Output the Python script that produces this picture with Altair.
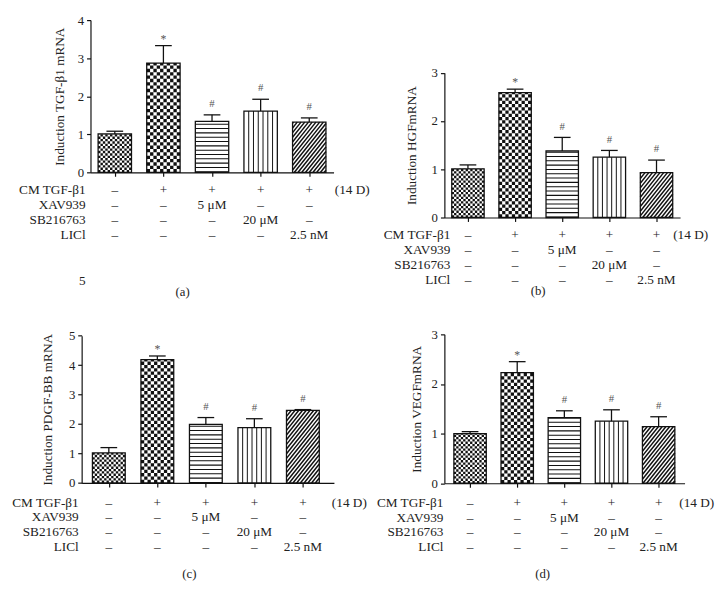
import altair as alt
import pandas as pd

FONT = "Liberation Serif"
INK = "#111111"
TXT = "#222222"

# ---------------- data ----------------
cat_index = [0, 1, 2, 3, 4]
categories = ["Control", "CM TGF-β1", "XAV939", "SB216763", "LiCl"]
signif = ["", "*", "#", "#", "#"]

tgf_mean = [1.01, 2.87, 1.34, 1.61, 1.32]
tgf_err = [1.08, 3.33, 1.51, 1.92, 1.43]

hgf_mean = [1.01, 2.59, 1.38, 1.25, 0.93]
hgf_err = [1.09, 2.66, 1.66, 1.39, 1.19]

pdgf_mean = [1.02, 4.19, 1.99, 1.88, 2.46]
pdgf_err = [1.20, 4.31, 2.22, 2.18, 2.49]

vegf_mean = [1.00, 2.23, 1.32, 1.25, 1.14]
vegf_err = [1.04, 2.45, 1.46, 1.48, 1.34]

row_labels = ["CM TGF-β1", "XAV939", "SB216763", "LICl"]
row_cm = ["–", "+", "+", "+", "+"]
row_xav = ["–", "–", "5 μM", "–", "–"]
row_sb = ["–", "–", "–", "20 μM", "–"]
row_licl = ["–", "–", "–", "–", "2.5 nM"]
duration_label = "(14 D)"
stray_label_a = "5"   # stray figure text shown under panel (a)

# ---------------- layout geometry (pixels) ----------------
# xr0: start of the x range inside the panel group (the y axis sits there)
GEO = {
    "a": dict(xdom=[-0.5, 4.5], pxx=49.5, xr0=0, yb=155, yt=0, height=271,
              rows=[173.3, 219.3], ldx=-5, ddx=26, hw=17, cdx=-30, coff=5.3, tpad=11),
    "b": dict(xdom=[-0.5, 4.5], pxx=48, xr0=0, yb=201, yt=53.6, height=271,
              rows=[219, 264.3], ldx=6, ddx=17, hw=16.5, cdx=-24.5, coff=5.3, tpad=13),
    "c": dict(xdom=[-0.56, 4.64], pxx=49.4, xr0=-9, yb=151.3, yt=1.3, height=235,
              rows=[171.3, 216.3], ldx=-3, ddx=29.5, hw=16.7, cdx=-23.2, coff=9.3, tpad=14),
    "d": dict(xdom=[-0.545, 4.55], pxx=48, xr0=0, yb=151.6, yt=0, height=235,
              rows=[171.8, 216.3], ldx=-1, ddx=21, hw=16.5, cdx=-22.3, coff=9.3, tpad=8),
}


def build_panel(mean, err, ytitle, ymax, caption, g, extra_label=None):
    xmin, xmax = g["xdom"]
    pxx = g["pxx"]
    x_range = [g["xr0"], g["xr0"] + (xmax - xmin) * pxx]
    width = x_range[1]
    yb, yt = g["yb"], g["yt"]
    pxy = (yb - yt) / ymax
    H = g["height"]
    hw = g["hw"] / pxx
    cap = 8.5 / pxx
    wb_px = 2 * g["hw"]

    xscale = alt.Scale(domain=[xmin, xmax], range=x_range, nice=False, zero=False)
    yscale = alt.Scale(domain=[0, ymax], range=[yb, yt], nice=False, zero=False)
    xaxis = alt.Axis(values=cat_index, labels=False, title=None, grid=False,
                     tickSize=4, offset=yb - H, domainColor=INK, domainWidth=1.2,
                     tickColor=INK, tickWidth=1.2)
    yaxis = alt.Axis(values=list(range(ymax + 1)), format="d", title=ytitle,
                     grid=False, tickSize=4, labelPadding=3, offset=-g["xr0"],
                     titlePadding=g["tpad"], domainColor=INK, domainWidth=1.2,
                     tickColor=INK, tickWidth=1.2,
                     labelFont=FONT, labelFontSize=13, labelColor=TXT,
                     titleFont=FONT, titleFontSize=13.5, titleFontWeight="normal",
                     titleColor=TXT, titleLimit=400)

    def X(f):
        return alt.X(f, type="quantitative", scale=xscale, axis=xaxis)

    def Y(f):
        return alt.Y(f, type="quantitative", scale=yscale, axis=yaxis)

    bars = pd.DataFrame({
        "i": cat_index, "mean": mean, "err": err, "sig": signif,
        "zero": [0] * 5,
        "x0": [i - hw for i in cat_index], "x1": [i + hw for i in cat_index],
        "c0": [i - cap for i in cat_index], "c1": [i + cap for i in cat_index],
    })

    base = alt.Chart(bars)
    layers = [
        base.mark_rect(fill="white").encode(x=X("x0"), x2="x1", y=Y("zero"), y2="mean")
    ]

    # checkerboards for bars 0 and 1
    for bi, n in [(0, 14), (1, 10)]:
        c_px = wb_px / n
        x0 = cat_index[bi] - hw
        for parity in (0, 1):
            xs = [x0 + (k + 0.5) * c_px / pxx for k in range(n) if k % 2 == parity]
            df = pd.DataFrame({"x": xs, "zero": 0, "mean": mean[bi]})
            props = dict(color=INK, strokeWidth=c_px, strokeDash=[c_px, c_px])
            if parity:
                props["strokeDashOffset"] = c_px
            layers.append(alt.Chart(df).mark_rule(**props).encode(
                x=X("x"), y=Y("zero"), y2="mean"))

    # horizontal stripes for bar 2
    df = pd.DataFrame({"x": [cat_index[2]], "zero": [0], "mean": [mean[2]]})
    layers.append(alt.Chart(df).mark_rule(color=INK, strokeWidth=wb_px,
                                          strokeDash=[1.1, 3.3]).encode(
        x=X("x"), y=Y("zero"), y2="mean"))

    # vertical stripes for bar 3
    x0 = cat_index[3] - hw
    xs = [x0 + k * wb_px / 7 / pxx for k in range(1, 7)]
    df = pd.DataFrame({"x": xs, "zero": 0, "mean": mean[3]})
    layers.append(alt.Chart(df).mark_rule(color=INK, strokeWidth=1).encode(
        x=X("x"), y=Y("zero"), y2="mean"))

    # diagonal stripes for bar 4
    x0 = cat_index[4] - hw
    hb_px = mean[4] * pxy
    m, p = 1.25, 3.8
    segs = []
    d = -hb_px / m + 1.0
    while d < wb_px:
        xa = max(0.0, d)
        xb = min(wb_px, d + hb_px / m)
        if xb > xa:
            segs.append({"x": x0 + xa / pxx, "x2": x0 + xb / pxx,
                         "y": m * (xa - d) / pxy, "y2": m * (xb - d) / pxy})
        d += p
    df = pd.DataFrame(segs)
    layers.append(alt.Chart(df).mark_rule(color=INK, strokeWidth=1.5).encode(
        x=X("x"), x2="x2", y=Y("y"), y2="y2"))

    # outlines, error bars, caps, significance marks
    layers += [
        base.mark_rect(fillOpacity=0, stroke=INK, strokeWidth=1.3).encode(
            x=X("x0"), x2="x1", y=Y("zero"), y2="mean"),
        base.mark_rule(color=INK, strokeWidth=1.3).encode(x=X("i"), y=Y("mean"), y2="err"),
        base.mark_rule(color=INK, strokeWidth=1.3).encode(x=X("c0"), x2="c1", y=Y("err")),
        base.transform_filter(alt.datum.sig == "*").mark_text(
            font=FONT, fontSize=12, color="#555555", baseline="alphabetic", dy=-3).encode(
            x=X("i"), y=Y("err"), text="sig:N"),
        base.transform_filter(alt.datum.sig == "#").mark_text(
            font=FONT, fontSize=11, color="#555555", baseline="alphabetic", dy=-8).encode(
            x=X("i"), y=Y("err"), text="sig:N"),
    ]
    bar_layer = alt.layer(*layers)

    # condition table
    rows = [row_cm, row_xav, row_sb, row_licl]
    tdf = pd.DataFrame([
        {"row": r, "i": i, "txt": rows[r][i]} for r in range(4) for i in cat_index
    ])
    labels = list(row_labels)
    nrows = 4
    if extra_label is not None:
        labels = labels + ["", "", extra_label]
        nrows = 7
    ldf = pd.DataFrame({"row": list(range(nrows)), "label": labels, "lx": xmin})
    ddf = pd.DataFrame({"row": [0], "i": [cat_index[4]], "txt": [duration_label]})
    r0, r3 = g["rows"]
    step = (r3 - r0) / 3
    tscale = alt.Scale(type="point", domain=list(range(nrows)),
                       range=[r0, r0 + step * (nrows - 1)], padding=0)
    TY = alt.Y("row:O", scale=tscale, axis=None)
    tstyle = dict(font=FONT, fontSize=13.5, color=TXT, baseline="middle")
    table = alt.layer(
        alt.Chart(tdf).mark_text(**tstyle).encode(x=X("i"), y=TY, text="txt:N"),
        alt.Chart(ldf).mark_text(align="right", dx=g["ldx"], **tstyle).encode(
            x=X("lx"), y=TY, text="label:N"),
        alt.Chart(ddf).mark_text(align="left", dx=g["ddx"], **tstyle).encode(
            x=X("i"), y=TY, text="txt:N"),
    )

    return alt.layer(bar_layer, table).resolve_scale(y="independent").properties(
        width=width, height=H,
        title=alt.TitleParams(caption, orient="bottom", anchor="middle", frame="group",
                              baseline="middle", offset=g["coff"], dx=g["cdx"],
                              font=FONT, fontSize=13, fontWeight="normal", color=TXT),
    )


pa = build_panel(tgf_mean, tgf_err, "Induction TGF-β1 mRNA", 4, "(a)", GEO["a"],
                 extra_label=stray_label_a)
pb = build_panel(hgf_mean, hgf_err, "Induction HGFmRNA", 3, "(b)", GEO["b"])
pc = build_panel(pdgf_mean, pdgf_err, "Induction PDGF-BB mRNA", 5, "(c)", GEO["c"])
pd_ = build_panel(vegf_mean, vegf_err, "Induction VEGFmRNA", 3, "(d)", GEO["d"])

chart = alt.concat(
    pa, pb, pc, pd_, columns=2, bounds="flush",
    spacing={"row": 49, "column": 112.35},
).properties(
    padding={"left": 3, "top": 0, "right": 5, "bottom": 5},
    background="white",
).configure_view(stroke="transparent")

chart.save("out.html", embed_options={"renderer": "svg", "actions": False})
